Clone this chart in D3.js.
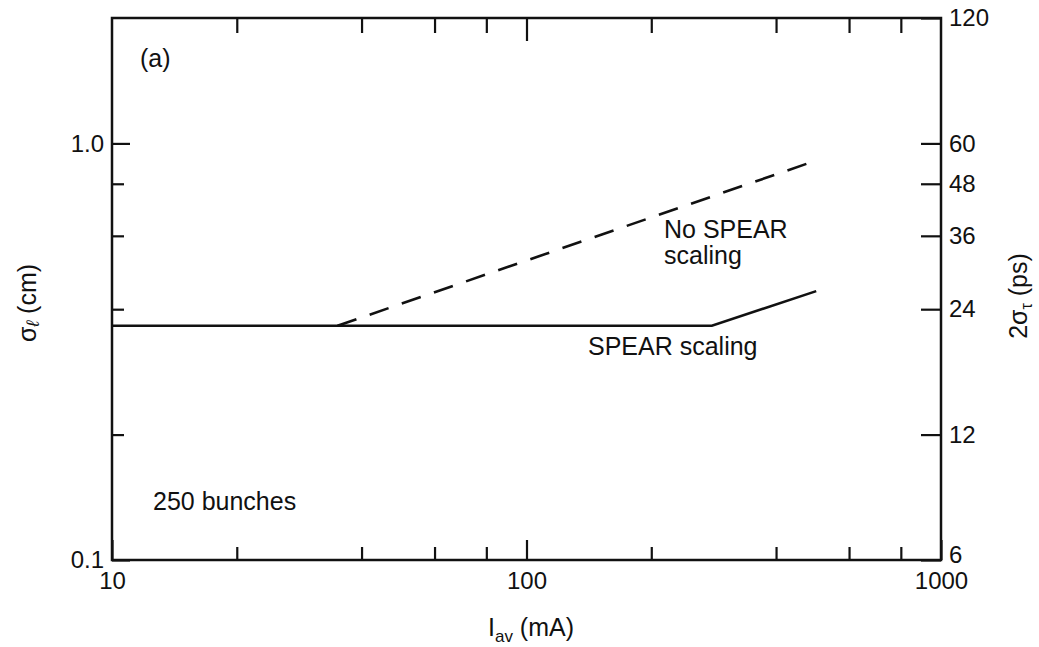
<!DOCTYPE html>
<html>
<head>
<meta charset="utf-8">
<title>bunch length vs current</title>
<style>
  body { margin: 0; background: #fff; }
  svg { display: block; }
  text { font-family: "Liberation Sans", Arial, Helvetica, sans-serif; fill: #111; }
  .axis text { font-size: 24px; }
  .axis line { stroke: #111; stroke-width: 2.2; }
  .frame { fill: none; stroke: #111; stroke-width: 2.5; }
  .curve { fill: none; stroke: #111; stroke-width: 2.6; }
  .lbl { font-size: 25px; }
</style>
<script src="https://cdn.jsdelivr.net/npm/d3@7"></script>
</head>
<body>
<svg width="1039" height="647"></svg>
<script>
// data
var xMajor = [10, 100, 1000];
var xMinor = [20, 40, 60, 80, 200, 400, 600, 800];
var yMajor = [0.1, 1.0];
var yMinor = [0.2, 0.4, 0.6, 0.8];
var psTicks = [6, 12, 24, 36, 48, 60, 120];

var spearI = [10, 280, 500];
var spearSigma = [0.365, 0.365, 0.442];
var noSpearI = [35, 500];
var noSpearSigma = [0.365, 0.91];

var svg = d3.select("svg");
var m = {left: 112, top: 18, right: 941, bottom: 560};

var x = d3.scaleLog().domain([10, 1000]).range([m.left, m.right]);
var y = d3.scaleLog().domain([0.1, 2.0]).range([m.bottom, m.top]);
var yps = d3.scaleLog().domain([6, 120]).range([m.bottom, m.top]);

function noDomain(g) { g.select(".domain").remove(); }

// bottom
svg.append("g").attr("class", "axis").attr("transform", "translate(0," + m.bottom + ")")
  .call(d3.axisBottom(x).tickValues(xMajor).tickSize(-20).tickPadding(12).tickFormat(d3.format("d")))
  .call(noDomain);
svg.append("g").attr("class", "axis").attr("transform", "translate(0," + m.bottom + ")")
  .call(d3.axisBottom(x).tickValues(xMinor).tickSize(-13).tickFormat(""))
  .call(noDomain);
// top
svg.append("g").attr("class", "axis").attr("transform", "translate(0," + m.top + ")")
  .call(d3.axisTop(x).tickValues([100]).tickSize(-23).tickFormat(""))
  .call(noDomain);
svg.append("g").attr("class", "axis").attr("transform", "translate(0," + m.top + ")")
  .call(d3.axisTop(x).tickValues(xMinor).tickSize(-15).tickFormat(""))
  .call(noDomain);
// left
svg.append("g").attr("class", "axis").attr("transform", "translate(" + m.left + ",0)")
  .call(d3.axisLeft(y).tickValues(yMajor).tickSize(-18).tickPadding(8).tickFormat(d3.format(".1f")))
  .call(noDomain);
svg.append("g").attr("class", "axis").attr("transform", "translate(" + m.left + ",0)")
  .call(d3.axisLeft(y).tickValues(yMinor).tickSize(-12).tickFormat(""))
  .call(noDomain);
// right (2 sigma_tau in ps)
var right = svg.append("g").attr("class", "axis").attr("transform", "translate(" + m.right + ",0)")
  .call(d3.axisRight(yps).tickValues(psTicks).tickSize(-20).tickPadding(8).tickFormat(d3.format("d")))
  .call(noDomain);
// the bottom "6" sits a little above the corner, as in the original
right.selectAll(".tick text").filter(function(d) { return d === 6; }).attr("dy", "0.1em");

svg.append("rect").attr("class", "frame")
  .attr("x", m.left).attr("y", m.top)
  .attr("width", m.right - m.left).attr("height", m.bottom - m.top);

var line = d3.line().x(function(d) { return x(d[0]); }).y(function(d) { return y(d[1]); });

svg.append("path").attr("class", "curve")
  .attr("d", line(d3.zip(spearI, spearSigma)));
svg.append("path").attr("class", "curve")
  .attr("stroke-dasharray", "20,14")
  .attr("d", line(d3.zip(noSpearI, noSpearSigma)));

// annotations
svg.append("text").attr("class", "lbl").attr("x", 140).attr("y", 67).text("(a)");
svg.append("text").attr("class", "lbl").attr("x", 664).attr("y", 238).text("No SPEAR");
svg.append("text").attr("class", "lbl").attr("x", 664).attr("y", 264).text("scaling");
svg.append("text").attr("class", "lbl").attr("x", 588).attr("y", 355).text("SPEAR scaling");
svg.append("text").attr("class", "lbl").attr("x", 153).attr("y", 510).text("250 bunches");

// axis titles
var xt = svg.append("text").attr("class", "lbl").attr("text-anchor", "middle")
  .attr("x", 531).attr("y", 636);
xt.append("tspan").text("I");
xt.append("tspan").attr("font-size", 17).attr("dy", 6).text("av");
xt.append("tspan").attr("dy", -6).text(" (mA)");

var yt = svg.append("text").attr("class", "lbl").attr("text-anchor", "middle")
  .attr("transform", "translate(36,303) rotate(-90)");
yt.append("tspan").text("σ");
yt.append("tspan").attr("font-size", 18).attr("font-style", "italic").attr("dy", 3).text("ℓ");
yt.append("tspan").attr("dy", -3).text(" (cm)");

var rt = svg.append("text").attr("class", "lbl").attr("text-anchor", "middle")
  .attr("transform", "translate(1027,296) rotate(-90)");
rt.append("tspan").text("2σ");
rt.append("tspan").attr("font-size", 16).attr("dy", 5).text("τ");
rt.append("tspan").attr("dy", -5).text(" (ps)");
</script>
</body>
</html>
